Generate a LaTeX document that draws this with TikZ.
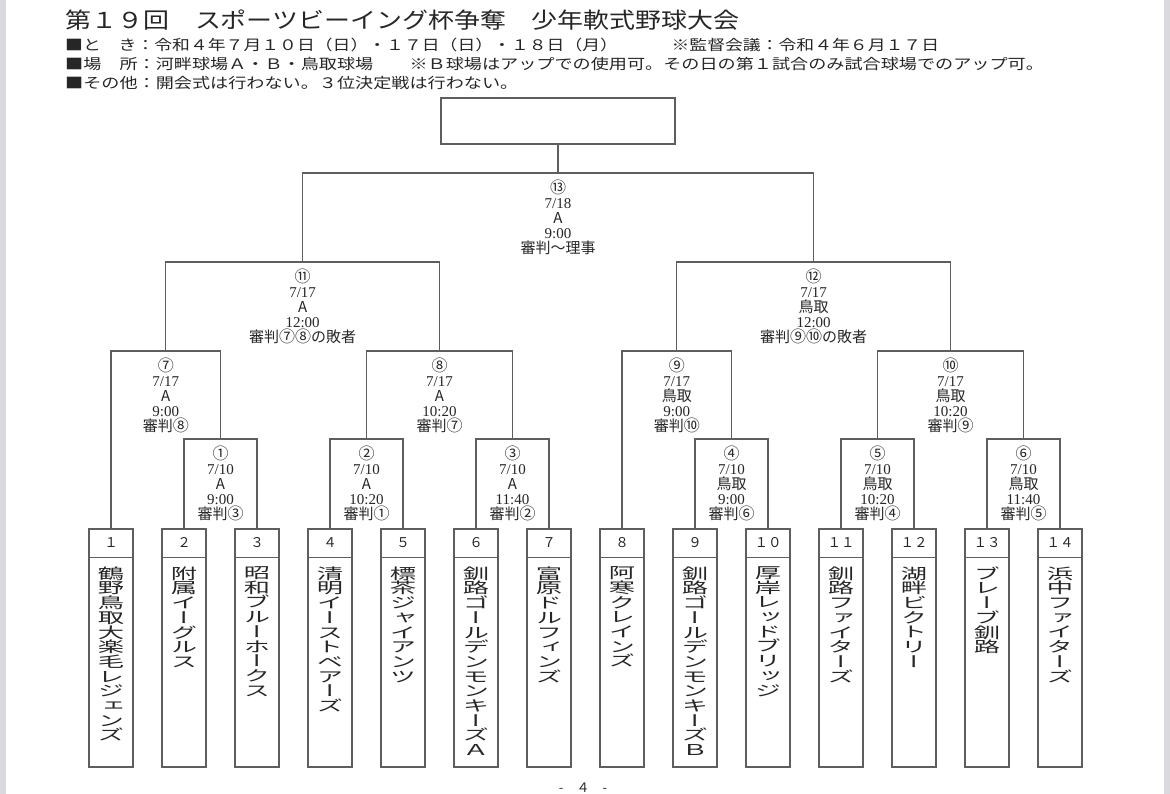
\documentclass[tikz,border=0pt]{standalone}
\usepackage{graphicx}
\usepackage{fontspec}
\setmainfont{Liberation Serif}
\newfontfamily\jp{Noto Sans CJK JP}
\newfontfamily\jpv[RawFeature=+vert]{Noto Sans CJK JP}
\newfontfamily\tm{Liberation Serif}
\definecolor{ln}{HTML}{5E5E5E}
\definecolor{tx}{HTML}{262626}
\definecolor{edgegray}{HTML}{D9D9DE}
\def\vtl#1{\ifx#1\relax\else\hbox to 16pt{\hss#1\hss}\expandafter\vtl\fi}
\newcommand\vnames[1]{\scalebox{1.75}[1]{\vbox{\jpv\fontsize{15}{14.7}\selectfont\baselineskip=14.7pt\lineskiplimit=-50pt\lineskip=0pt\vtl#1\relax}}}
\newcommand\cn[1]{\smash{\fontsize{16}{15}\selectfont #1}}
\newcommand\lb[5]{\rule{0pt}{12pt}{\jp\cn{#1}}\\{\tm #2}\\{\jp #3}\\{\tm #4}\\{\jp #5}}
\newcommand\hdr[2]{\scalebox{#1}[1]{#2}}
\newcommand\tightlines{\lineskiplimit=-20pt\relax\lineskip=0pt\relax}
\tikzset{
  teambox/.style={draw=ln, line width=1.1pt, minimum width=44pt, minimum height=238pt, inner sep=0pt},
  finalbox/.style={draw=ln, line width=1.1pt, minimum width=234pt, minimum height=46pt, inner sep=0pt},
  br/.style={draw=ln, line width=1.1pt},
  lab/.style={anchor=north, inner sep=0pt, align=center, text=tx, font=\fontsize{15}{15}\selectfont, execute at begin node=\tightlines},
  num/.style={inner sep=0pt, text=tx, font=\jp\fontsize{13.5}{14}\selectfont},
  tname/.style={anchor=north, inner sep=0pt, text=tx},
  head/.style={anchor=base west, inner sep=0pt, text=tx},
}
\begin{document}
\begin{tikzpicture}[x=1pt, y=-1pt]
\useasboundingbox (0,0) rectangle (1170,794);
\fill[white] (0,0) rectangle (1170,794);
\fill[edgegray] (0,0) rectangle (6,794);
\fill[edgegray] (1164,0) rectangle (1170,794);

% header
\node[head] (title) at (65,28.4) {\hdr{1.18}{\jp\fontsize{22}{22}\selectfont 第１９回　スポーツビーイング杯争奪　少年軟式野球大会}};
\node[head] (h1) at (65,50.5) {\hdr{1.23}{\jp\fontsize{14.5}{15}\selectfont ■と　き：令和４年７月１０日（日）・１７日（日）・１８日（月）　　　※監督会議：令和４年６月１７日}};
\node[head] (h2) at (65,69.5) {\hdr{1.25}{\jp\fontsize{14.5}{15}\selectfont ■場　所：河畔球場Ａ・Ｂ・鳥取球場　　※Ｂ球場はアップでの使用可。その日の第１試合のみ試合球場でのアップ可。}};
\node[head] (h3) at (65,89) {\hdr{1.25}{\jp\fontsize{14.5}{15}\selectfont ■その他：開会式は行わない。３位決定戦は行わない。}};

% final box
\node[finalbox] (f) at (558,121) {};

% team boxes
\foreach \i/\n in {1/１,2/２,3/３,4/４,5/５,6/６,7/７,8/８,9/９,10/１０,11/１１,12/１２,13/１３,14/１４}{
  \node[teambox] (t\i) at ({111+73*(\i-1)},648) {};
  \draw[br] ([yshift=-29pt]t\i.north west) -- ([yshift=-29pt]t\i.north east);
  \node[num] (n\i) at ([yshift=-14.5pt]t\i.north) {\n};
}
\node[tname] (w1) at ([yshift=-38pt]t1.north) {\vnames{鶴野鳥取大楽毛レジェンズ}};
\node[tname] (w2) at ([yshift=-38pt]t2.north) {\vnames{附属イーグルス}};
\node[tname] (w3) at ([yshift=-38pt]t3.north) {\vnames{昭和ブルーホークス}};
\node[tname] (w4) at ([yshift=-38pt]t4.north) {\vnames{清明イーストベアーズ}};
\node[tname] (w5) at ([yshift=-38pt]t5.north) {\vnames{標茶ジャイアンツ}};
\node[tname] (w6) at ([yshift=-38pt]t6.north) {\vnames{釧路ゴールデンモンキーズＡ}};
\node[tname] (w7) at ([yshift=-38pt]t7.north) {\vnames{富原ドルフィンズ}};
\node[tname] (w8) at ([yshift=-38pt]t8.north) {\vnames{阿寒クレインズ}};
\node[tname] (w9) at ([yshift=-38pt]t9.north) {\vnames{釧路ゴールデンモンキーズＢ}};
\node[tname] (w10) at ([yshift=-38pt]t10.north) {\vnames{厚岸レッドブリッジ}};
\node[tname] (w11) at ([yshift=-38pt]t11.north) {\vnames{釧路ファイターズ}};
\node[tname] (w12) at ([yshift=-38pt]t12.north) {\vnames{湖畔ビクトリー}};
\node[tname] (w13) at ([yshift=-38pt]t13.north) {\vnames{ブレーブ釧路}};
\node[tname] (w14) at ([yshift=-38pt]t14.north) {\vnames{浜中ファイターズ}};

% match points
\coordinate (m1) at (220.5,439);
\coordinate (m2) at (366.5,439);
\coordinate (m3) at (512.5,439);
\coordinate (m4) at (731.5,439);
\coordinate (m5) at (877.5,439);
\coordinate (m6) at (1023.5,439);
\coordinate (m7) at (165.75,351);
\coordinate (m8) at (439.5,351);
\coordinate (m9) at (676.75,351);
\coordinate (m10) at (950.5,351);
\coordinate (m11) at (302.6,262);
\coordinate (m12) at (813.6,262);
\coordinate (m13) at (558,173);

% brackets
\draw[br] (t2.north) |- (m1) -| (t3.north);
\draw[br] (t4.north) |- (m2) -| (t5.north);
\draw[br] (t6.north) |- (m3) -| (t7.north);
\draw[br] (t9.north) |- (m4) -| (t10.north);
\draw[br] (t11.north) |- (m5) -| (t12.north);
\draw[br] (t13.north) |- (m6) -| (t14.north);
\draw[br] (t1.north) |- (m7) -| (m1);
\draw[br] (m2) |- (m8) -| (m3);
\draw[br] (t8.north) |- (m9) -| (m4);
\draw[br] (m5) |- (m10) -| (m6);
\draw[br] (m7) |- (m11) -| (m8);
\draw[br] (m9) |- (m12) -| (m10);
\draw[br] (m11) |- (m13) -| (m12);
\draw[br] (m13) -- (f.south);

% match labels
\node[lab] (l13) at ([yshift=-8pt]m13) {\lb{⑬}{7/18}{A}{9:00}{審判～理事}};
\node[lab] (l11) at ([yshift=-8pt]m11) {\lb{⑪}{7/17}{A}{12:00}{審判\cn{⑦⑧}の敗者}};
\node[lab] (l12) at ([yshift=-8pt]m12) {\lb{⑫}{7/17}{鳥取}{12:00}{審判\cn{⑨⑩}の敗者}};
\node[lab] (l7) at ([yshift=-8pt]m7) {\lb{⑦}{7/17}{A}{9:00}{審判\cn{⑧}}};
\node[lab] (l8) at ([yshift=-8pt]m8) {\lb{⑧}{7/17}{A}{10:20}{審判\cn{⑦}}};
\node[lab] (l9) at ([yshift=-8pt]m9) {\lb{⑨}{7/17}{鳥取}{9:00}{審判\cn{⑩}}};
\node[lab] (l10) at ([yshift=-8pt]m10) {\lb{⑩}{7/17}{鳥取}{10:20}{審判\cn{⑨}}};
\node[lab] (l1) at ([yshift=-8pt]m1) {\lb{①}{7/10}{A}{9:00}{審判\cn{③}}};
\node[lab] (l2) at ([yshift=-8pt]m2) {\lb{②}{7/10}{A}{10:20}{審判\cn{①}}};
\node[lab] (l3) at ([yshift=-8pt]m3) {\lb{③}{7/10}{A}{11:40}{審判\cn{②}}};
\node[lab] (l4) at ([yshift=-8pt]m4) {\lb{④}{7/10}{鳥取}{9:00}{審判\cn{⑥}}};
\node[lab] (l5) at ([yshift=-8pt]m5) {\lb{⑤}{7/10}{鳥取}{10:20}{審判\cn{④}}};
\node[lab] (l6) at ([yshift=-8pt]m6) {\lb{⑥}{7/10}{鳥取}{11:40}{審判\cn{⑤}}};

% page number
\node[anchor=base, inner sep=0pt, text=tx] (pg) at (583,792) {\jp\fontsize{13}{13}\selectfont -　４　-};
\end{tikzpicture}
\end{document}
